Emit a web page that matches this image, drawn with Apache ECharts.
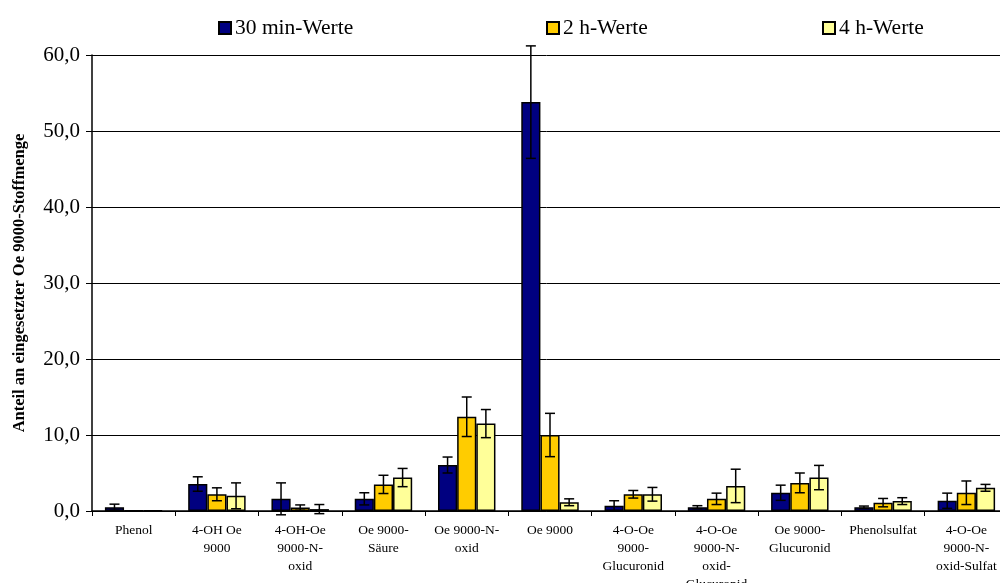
<!DOCTYPE html>
<html>
<head>
<meta charset="utf-8">
<script src="https://cdn.jsdelivr.net/npm/echarts@6/dist/echarts.min.js"></script>
<style>
  html, body { margin: 0; padding: 0; background: #fff; }
  #chart { width: 1000px; height: 583px; }
</style>
</head>
<body>
<div id="chart"></div>
<script>
// Metabolites (x axis categories)
const categories = [
  'Phenol', '4-OH Oe\n9000', '4-OH-Oe\n9000-N-\noxid', 'Oe 9000-\nSäure',
  'Oe 9000-N-\noxid', 'Oe 9000', '4-O-Oe\n9000-\nGlucuronid',
  '4-O-Oe\n9000-N-\noxid-\nGlucuronid', 'Oe 9000-\nGlucuronid',
  'Phenolsulfat', '4-O-Oe\n9000-N-\noxid-Sulfat'
];

const seriesNames = ['30 min-Werte', '2 h-Werte', '4 h-Werte'];

// Mean share of the administered Oe 9000 amount (%)
const values30min = [0.5, 3.55, 1.6, 1.6, 6.05, 53.8, 0.7, 0.5, 2.4, 0.5, 1.35];
const values2h    = [0.05, 2.2, 0.45, 3.5, 12.4, 10.0, 2.2, 1.6, 3.7, 1.1, 2.4];
const values4h    = [0.05, 2.0, 0.25, 4.4, 11.5, 1.15, 2.2, 3.3, 4.4, 1.3, 3.05];

// Standard deviations (error bars)
const sd30min = [0.4, 0.95, 2.1, 0.8, 1.05, 7.4, 0.65, 0.2, 1.0, 0.15, 1.0];
const sd2h    = [0, 0.85, 0.35, 1.2, 2.6, 2.85, 0.5, 0.75, 1.3, 0.55, 1.55];
const sd4h    = [0, 1.7, 0.6, 1.2, 1.85, 0.45, 0.9, 2.2, 1.6, 0.45, 0.45];

const yTicks = [0, 10, 20, 30, 40, 50, 60];

const colors = ['#000080', '#FFCC00', '#FFFF99'];
const FONT = 'Liberation Serif';
const GAP = 0.31;

const chart = echarts.init(document.getElementById('chart'), null, { renderer: 'canvas' });

function errorData(vals, sds) {
  return vals.map((v, i) => [i, v - sds[i], v + sds[i]]);
}

function errorSeries(idx, vals, sds) {
  return {
    type: 'custom',
    name: seriesNames[idx] + ' SD',
    z: 10,
    silent: true,
    clip: false,
    encode: { x: 0, y: [1, 2] },
    data: errorData(vals, sds),
    renderItem: function (params, api) {
      const cat = api.value(0);
      const lo = api.value(1);
      const hi = api.value(2);
      if (hi - lo <= 0) return null;
      const band = api.size([1, 0])[0];
      const bw = band * (1 - GAP) / 3;
      const c = api.coord([cat, 0]);
      const x = c[0] + (idx - 1) * bw;
      const yHi = api.coord([cat, hi])[1];
      const yLo = api.coord([cat, lo])[1];
      const half = 5;
      const st = { stroke: '#000', lineWidth: 1.5 };
      return {
        type: 'group',
        children: [
          { type: 'line', shape: { x1: x, y1: yHi, x2: x, y2: yLo }, style: st },
          { type: 'line', shape: { x1: x - half, y1: yHi, x2: x + half, y2: yHi }, style: st },
          { type: 'line', shape: { x1: x - half, y1: yLo, x2: x + half, y2: yLo }, style: st }
        ]
      };
    }
  };
}

function barSeries(idx, vals) {
  return {
    type: 'bar',
    name: seriesNames[idx],
    data: vals,
    barGap: '0%',
    barCategoryGap: (GAP * 100) + '%',
    itemStyle: { color: colors[idx], borderColor: '#000', borderWidth: 1.5 }
  };
}

function legendAt(left, idx) {
  return {
    left: left, top: 12,
    data: [seriesNames[idx]],
    icon: 'rect',
    itemWidth: 12, itemHeight: 12, itemGap: 4,
    selectedMode: false,
    textStyle: { fontFamily: FONT, fontSize: 21.5, color: '#000', padding: [0, 0, 0, -1] }
  };
}

const option = {
  animation: false,
  backgroundColor: '#fff',
  legend: [legendAt(213, 0), legendAt(541, 1), legendAt(817, 2)],
  grid: {
    left: 92, right: -8, top: 55, bottom: 72,
    containLabel: false,
    outerBoundsMode: 'none'
  },
  xAxis: {
    type: 'category',
    data: categories,
    axisLine: { lineStyle: { color: '#000', width: 1.5 } },
    axisTick: { show: true, length: 5, lineStyle: { color: '#000' } },
    axisLabel: {
      interval: 0, margin: 10,
      fontFamily: FONT, fontSize: 13.5, lineHeight: 18, color: '#000'
    }
  },
  yAxis: {
    type: 'value',
    min: 0, max: 60, interval: 10,
    name: 'Anteil an eingesetzter Oe 9000-Stoffmenge',
    nameLocation: 'middle',
    nameGap: 64,
    nameTextStyle: { fontFamily: FONT, fontSize: 16.5, fontWeight: 'bold', color: '#000' },
    axisLine: { show: true, lineStyle: { color: '#000', width: 1.5 } },
    axisTick: { show: true, length: 6, lineStyle: { color: '#000' } },
    splitLine: { show: true, lineStyle: { color: '#000', width: 1 } },
    axisLabel: {
      margin: 12,
      fontFamily: FONT, fontSize: 21, color: '#000',
      formatter: v => yTicks.includes(v) ? v.toFixed(1).replace('.', ',') : ''
    }
  },
  series: [
    barSeries(0, values30min),
    barSeries(1, values2h),
    barSeries(2, values4h),
    errorSeries(0, values30min, sd30min),
    errorSeries(1, values2h, sd2h),
    errorSeries(2, values4h, sd4h)
  ]
};

chart.setOption(option);
</script>
</body>
</html>
